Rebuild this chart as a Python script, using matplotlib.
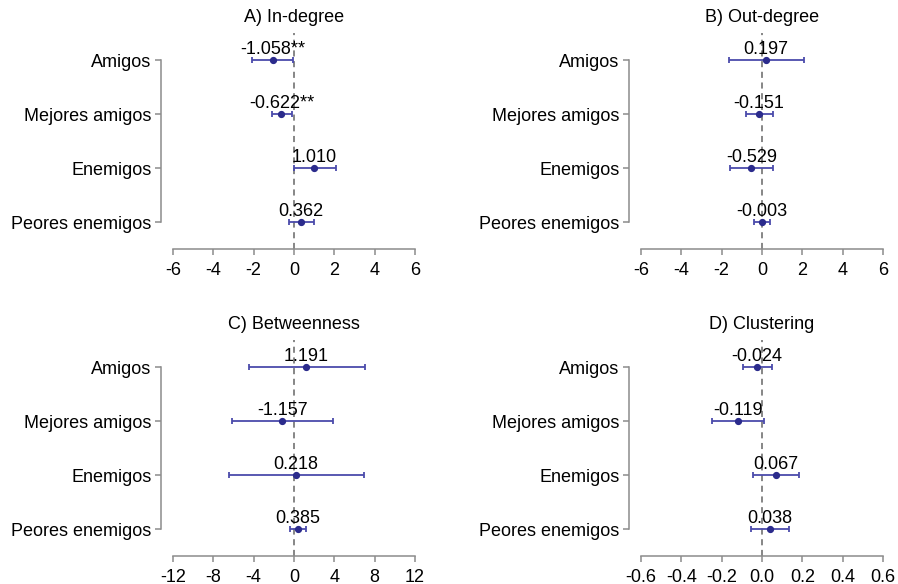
import numpy as np
import matplotlib.pyplot as plt

plt.rcParams["font.family"] = ["Liberation Sans", "DejaVu Sans"]

categories = ["Amigos", "Mejores amigos", "Enemigos", "Peores enemigos"]
titles = ["A) In-degree", "B) Out-degree", "C) Betweenness", "D) Clustering"]

# coefficients, lower and upper CI, printed labels per panel
indeg_est = [-1.058, -0.622, 1.010, 0.362]
indeg_lo = [-2.08, -1.09, -0.02, -0.27]
indeg_hi = [-0.03, -0.08, 2.08, 1.00]
indeg_lab = ["-1.058**", "-0.622**", "1.010", "0.362"]

outdeg_est = [0.197, -0.151, -0.529, -0.003]
outdeg_lo = [-1.65, -0.81, -1.60, -0.38]
outdeg_hi = [2.06, 0.53, 0.53, 0.38]
outdeg_lab = ["0.197", "-0.151", "-0.529", "-0.003"]

betw_est = [1.191, -1.157, 0.218, 0.385]
betw_lo = [-4.50, -6.11, -6.41, -0.40]
betw_hi = [7.06, 3.89, 6.99, 1.22]
betw_lab = ["1.191", "-1.157", "0.218", "0.385"]

clus_est = [-0.024, -0.119, 0.067, 0.038]
clus_lo = [-0.096, -0.248, -0.045, -0.053]
clus_hi = [0.051, 0.011, 0.181, 0.132]
clus_lab = ["-0.024", "-0.119", "0.067", "0.038"]

xticks_list = [
    [-6, -4, -2, 0, 2, 4, 6],
    [-6, -4, -2, 0, 2, 4, 6],
    [-12, -8, -4, 0, 4, 8, 12],
    [-0.6, -0.4, -0.2, 0.0, 0.2, 0.4, 0.6],
]
xtick_labels = [
    ["-6", "-4", "-2", "0", "2", "4", "6"],
    ["-6", "-4", "-2", "0", "2", "4", "6"],
    ["-12", "-8", "-4", "0", "4", "8", "12"],
    ["-0.6", "-0.4", "-0.2", "0.0", "0.2", "0.4", "0.6"],
]

panels = [
    (indeg_est, indeg_lo, indeg_hi, indeg_lab),
    (outdeg_est, outdeg_lo, outdeg_hi, outdeg_lab),
    (betw_est, betw_lo, betw_hi, betw_lab),
    (clus_est, clus_lo, clus_hi, clus_lab),
]

W, H = 898, 584
fig = plt.figure(figsize=(W / 100, H / 100), dpi=100)

# pixel boxes (left, top) of each axes; spine-to-spine width and height
boxes = [(161, 33), (629, 33), (161, 340), (629, 340)]
box_w, box_h = 266, 215.5
fs = 13

err_col = "#4b4bab"
pt_col = "#2b2b8c"
spine_col = "#8c8c8c"

for i, (est, lo, hi, lab) in enumerate(panels):
    left, top = boxes[i]
    ax = fig.add_axes([left / W, (H - top - box_h) / H, box_w / W, box_h / H])
    ticks = xticks_list[i]
    span = ticks[-1] - ticks[0]
    pad = span * 12 / 242.3
    ax.set_xlim(ticks[0] - pad, ticks[-1] + pad)
    ax.set_ylim(-0.49, 3.5)
    y = np.arange(len(categories))[::-1]
    est = np.array(est)
    lo = np.array(lo)
    hi = np.array(hi)
    ax.axvline(0, ls=(0, (4, 3)), color="#666666", lw=1.1, zorder=1)
    ax.errorbar(est, y, xerr=[est - lo, hi - est], fmt="none", ecolor=err_col,
                elinewidth=1.3, capsize=2.3, capthick=1.3, zorder=2)
    ax.plot(est, y, "o", color=pt_col, ms=4.2, zorder=3)
    for xv, yv, t in zip(est, y, lab):
        ax.annotate(t, (xv, yv), xytext=(0, 4.5), textcoords="offset points",
                    ha="center", va="baseline", fontsize=fs, color="black")
    ax.text(0, 3.78, titles[i], ha="center", va="center", fontsize=fs)
    ax.set_yticks(y)
    ax.set_yticklabels(categories, fontsize=fs)
    ax.set_xticks(ticks)
    ax.set_xticklabels(xtick_labels[i], fontsize=fs)
    for s in ["top", "right"]:
        ax.spines[s].set_visible(False)
    ax.spines["left"].set_bounds(0, 3)
    ax.spines["bottom"].set_bounds(ticks[0], ticks[-1])
    for s in ["left", "bottom"]:
        ax.spines[s].set_color(spine_col)
        ax.spines[s].set_linewidth(1.1)
    ax.tick_params(axis="both", colors=spine_col, labelcolor="black", length=4,
                   width=1.1)
    ax.tick_params(axis="x", pad=6)
    ax.tick_params(axis="y", pad=3)
    ax.patch.set_alpha(0)

fig.savefig("out.png", dpi=100)
